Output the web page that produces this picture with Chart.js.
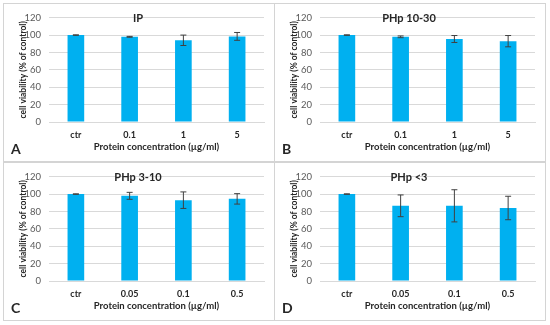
<!DOCTYPE html>
<html>
<head>
<meta charset="utf-8">
<script src="https://cdn.jsdelivr.net/npm/chart.js@4"></script>
<style>
  body { margin: 0; background: #fff; width: 550px; height: 325px; position: relative; overflow: hidden; }
  .panel { position: absolute; border: 1px solid #d4d4d4; background: #fff; }
  .panel canvas { display: block; }
</style>
</head>
<body>
<div class="panel" style="left:3px;top:3px;width:270px;height:157px;"><canvas id="chartA" width="270" height="157"></canvas></div>
<div class="panel" style="left:274px;top:3px;width:270px;height:157px;"><canvas id="chartB" width="270" height="157"></canvas></div>
<div class="panel" style="left:3px;top:162px;width:270px;height:157px;"><canvas id="chartC" width="270" height="157"></canvas></div>
<div class="panel" style="left:274px;top:162px;width:270px;height:157px;"><canvas id="chartD" width="270" height="157"></canvas></div>
<script>
// data
var panelTitles = ["IP", "PHp 10-30", "PHp 3-10", "PHp <3"];
var panelLetters = ["A", "B", "C", "D"];
var catsAB = ["ctr", "0.1", "1", "5"];
var catsCD = ["ctr", "0.05", "0.1", "0.5"];
var valuesA = [100, 98, 94, 98.5];
var errorsA = [0.3, 0.5, 6, 4.5];
var valuesB = [100, 98, 95.5, 93];
var errorsB = [0.3, 1, 4, 6.5];
var valuesC = [100, 98, 93, 94.5];
var errorsC = [0.3, 4, 9.5, 6];
var valuesD = [100, 86.5, 86.5, 84];
var errorsD = [0.3, 12.5, 18.5, 13.5];
var yTicks = [0, 20, 40, 60, 80, 100, 120];

var fontFamily = "Lato, 'Open Sans', sans-serif";
var textColor = "#595959";

// error bars, drawn with the y scale
var errorBarPlugin = {
    id: "errorBars",
    afterDatasetsDraw: function (chart) {
        var ctx = chart.ctx;
        var yScale = chart.scales.y;
        chart.data.datasets.forEach(function (ds, di) {
            var meta = chart.getDatasetMeta(di);
            meta.data.forEach(function (bar, i) {
                var v = ds.data[i], e = ds.errors[i];
                var yTop = yScale.getPixelForValue(v + e);
                var yBot = yScale.getPixelForValue(v - e);
                ctx.save();
                ctx.strokeStyle = "#404040";
                ctx.lineWidth = 1;
                ctx.beginPath();
                ctx.moveTo(bar.x, yTop);
                ctx.lineTo(bar.x, yBot);
                ctx.moveTo(bar.x - 3, yTop);
                ctx.lineTo(bar.x + 3, yTop);
                ctx.moveTo(bar.x - 3, yBot);
                ctx.lineTo(bar.x + 3, yBot);
                ctx.stroke();
                ctx.restore();
            });
        });
    }
};

// panel title inside the plot and the panel letter
var panelTextPlugin = {
    id: "panelText",
    afterDraw: function (chart, args, opts) {
        var ctx = chart.ctx;
        ctx.save();
        ctx.fillStyle = "#262626";
        ctx.textAlign = "center";
        ctx.textBaseline = "middle";
        ctx.font = "bold 11px " + fontFamily;
        ctx.fillText(opts.title, chart.width / 2 - 1, chart.chartArea.top + 1);
        ctx.textAlign = "left";
        ctx.font = "bold 14px " + fontFamily;
        ctx.fillText(opts.letter, 7, chart.height - 12);
        ctx.restore();
    }
};

function makeChart(id, cats, values, errors, idx) {
    var ctx = document.getElementById(id).getContext("2d");
    return new Chart(ctx, {
        type: "bar",
        data: {
            labels: cats,
            datasets: [
                {
                    data: values,
                    errors: errors,
                    backgroundColor: "#00B0F0",
                    borderWidth: 0,
                    categoryPercentage: 1,
                    barPercentage: 0.31,
                },
            ],
        },
        options: {
            responsive: false,
            animation: false,
            layout: { padding: { top: 6, right: 10, left: 8, bottom: 4 } },
            plugins: {
                legend: { display: false },
                tooltip: { enabled: false },
                panelText: { title: panelTitles[idx], letter: panelLetters[idx] },
            },
            scales: {
                x: {
                    afterFit: function (scale) { scale.height = 35; },
                    grid: { display: false, drawTicks: false },
                    border: { display: true, color: "#d9d9d9" },
                    ticks: { color: "#262626", font: { family: fontFamily, size: 9, weight: "bold" }, padding: 8 },
                    title: {
                        display: true,
                        text: "Protein concentration (µg/ml)",
                        color: "#262626",
                        font: { family: fontFamily, size: 9.5, weight: "bold" },
                        padding: { top: 2, bottom: 4 },
                    },
                },
                y: {
                    min: 0,
                    max: 120,
                    afterFit: function (scale) { scale.width = 37; },
                    afterBuildTicks: function (scale) {
                        scale.ticks = yTicks.map(function (v) { return { value: v }; });
                    },
                    grid: { color: "#d9d9d9", drawTicks: false },
                    border: { display: false },
                    ticks: { color: textColor, font: { family: fontFamily, size: 9.5 }, padding: 8 },
                    title: {
                        display: true,
                        text: "cell viability (% of control)",
                        color: "#262626",
                        font: { family: fontFamily, size: 8.5, weight: "bold" },
                        padding: { top: 6, bottom: 2 },
                    },
                },
            },
        },
        plugins: [errorBarPlugin, panelTextPlugin],
    });
}

makeChart("chartA", catsAB, valuesA, errorsA, 0);
makeChart("chartB", catsAB, valuesB, errorsB, 1);
makeChart("chartC", catsCD, valuesC, errorsC, 2);
makeChart("chartD", catsCD, valuesD, errorsD, 3);
</script>
</body>
</html>
